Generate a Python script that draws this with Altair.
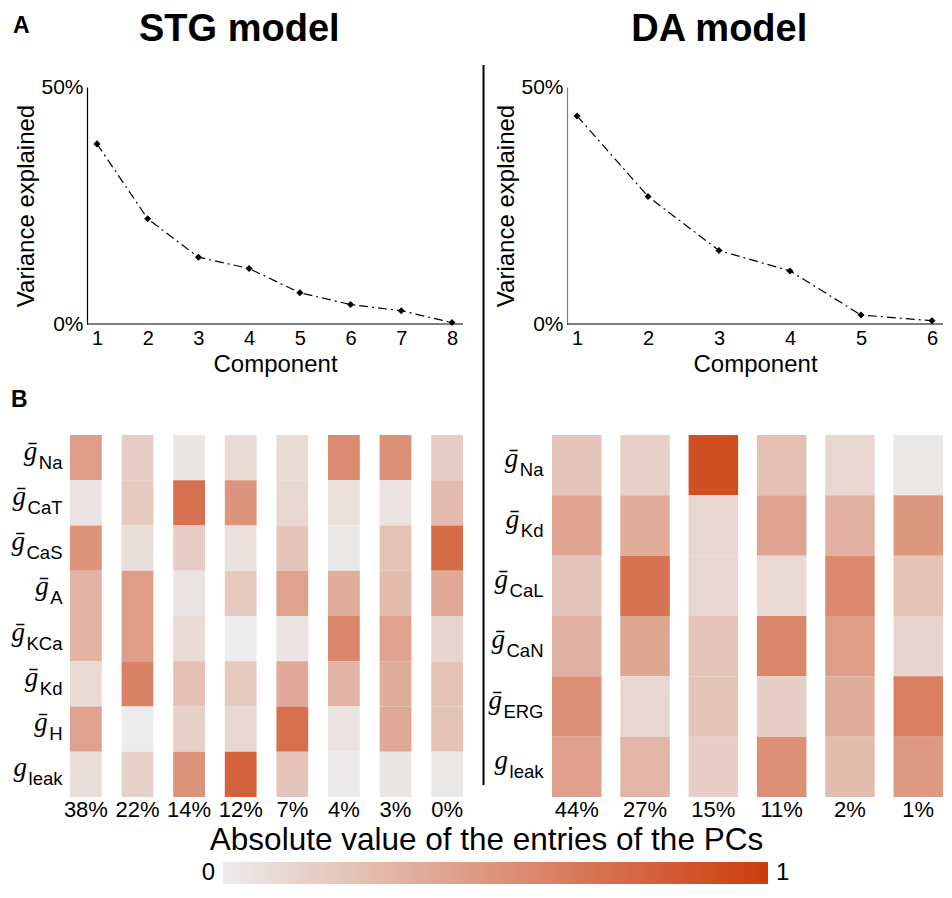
import altair as alt
import pandas as pd

# ---------------- data ----------------
stg_components = [1, 2, 3, 4, 5, 6, 7, 8]
stg_variance = [38.0, 22.2, 14.1, 11.7, 6.6, 4.1, 2.8, 0.3]
da_components = [1, 2, 3, 4, 5, 6]
da_variance = [43.9, 26.9, 15.5, 11.2, 1.9, 0.7]

stg_pc_labels = ["38%", "22%", "14%", "12%", "7%", "4%", "3%", "0%"]
da_pc_labels = ["44%", "27%", "15%", "11%", "2%", "1%"]

stg_conductances = ["Na", "CaT", "CaS", "A", "KCa", "Kd", "H", "leak"]
da_conductances = ["Na", "Kd", "CaL", "CaN", "ERG", "leak"]

# absolute value of PC entries: one list per conductance (row), one value per PC
stg_Na = [0.45, 0.18, 0.03, 0.10, 0.10, 0.55, 0.53, 0.18]
stg_CaT = [0.05, 0.20, 0.70, 0.50, 0.12, 0.07, 0.05, 0.28]
stg_CaS = [0.50, 0.08, 0.18, 0.06, 0.22, 0.02, 0.24, 0.72]
stg_A = [0.32, 0.45, 0.05, 0.20, 0.42, 0.35, 0.28, 0.38]
stg_KCa = [0.32, 0.45, 0.10, 0.00, 0.05, 0.58, 0.42, 0.13]
stg_Kd = [0.10, 0.60, 0.25, 0.20, 0.38, 0.32, 0.36, 0.24]
stg_H = [0.42, 0.00, 0.15, 0.12, 0.70, 0.05, 0.38, 0.23]
stg_leak = [0.08, 0.15, 0.50, 0.78, 0.22, 0.01, 0.03, 0.02]

da_Na = [0.22, 0.16, 0.90, 0.25, 0.12, 0.02]
da_Kd = [0.42, 0.36, 0.12, 0.41, 0.34, 0.48]
da_CaL = [0.22, 0.68, 0.12, 0.11, 0.56, 0.23]
da_CaN = [0.33, 0.40, 0.22, 0.57, 0.45, 0.13]
da_ERG = [0.52, 0.12, 0.23, 0.17, 0.36, 0.62]
da_leak = [0.43, 0.30, 0.17, 0.53, 0.27, 0.47]

stg_rows = [stg_Na, stg_CaT, stg_CaS, stg_A, stg_KCa, stg_Kd, stg_H, stg_leak]
da_rows = [da_Na, da_Kd, da_CaL, da_CaN, da_ERG, da_leak]

colorbar_ends = [0.0, 1.0]
colorbar_texts = ["0", "1"]
panel_letters = ["A", "B"]

# ---------------- styling ----------------
FONT = "Liberation Sans"
C0 = "#ececec"
C1 = "#cc3c0c"
SUB_SIZE = 18.5
# Arial / Liberation Sans advance widths (per 1000 em) for measuring subscripts
ADV = {"N": 722, "a": 556, "C": 722, "T": 611, "S": 667, "A": 667, "K": 667,
       "d": 556, "H": 722, "l": 222, "e": 556, "k": 500, "L": 556, "E": 667,
       "R": 722, "G": 778}

LINE_H = 237
HEAT_H = 362
ROW_GAP = 65
HEAT_TOP_GAP = 46
COL1_W = 393


def text_width(s, size):
    return sum(ADV.get(ch, 556) for ch in s) * size / 1000.0


def line_panel(comps, var, axis_extent, inset, width, title, ydomain_color):
    lo, hi = axis_extent
    axis_w = width - inset
    scale_lo = lo - (hi - lo) * inset / axis_w
    df = pd.DataFrame({"comp": comps, "var": var})
    xscale = alt.Scale(domain=[scale_lo, hi], nice=False, zero=False)
    yscale = alt.Scale(domain=[0, 50], nice=False, zero=True)
    base = alt.Chart(df).encode(
        x=alt.X("comp:Q", scale=xscale,
                axis=alt.Axis(values=comps, format="d", title="Component",
                              labelFontSize=20, labelPadding=4, ticks=False,
                              tickSize=0, grid=False, titleFontSize=24,
                              titlePadding=4, labelFlush=False, domain=False,
                              titleX=inset + axis_w / 2)),
        y=alt.Y("var:Q", scale=yscale,
                axis=alt.Axis(values=[0, 50], labelExpr="datum.value + '%'",
                              title="Variance explained", labelFontSize=21,
                              labelPadding=4, ticks=False, tickSize=0, grid=False,
                              titleFontSize=24, titlePadding=2, offset=-inset,
                              domainColor=ydomain_color, labelFlush=False)),
    )
    line = base.mark_line(color="black", strokeWidth=1.2, strokeDash=[9, 4, 2, 4])
    pts = base.mark_point(shape="diamond", filled=True, color="black", size=50, opacity=1)
    # x axis line drawn over the axis extent only
    frame = pd.DataFrame({"x0": [lo], "x1": [hi], "y0": [0]})
    xline = alt.Chart(frame).mark_rule(color="black", strokeWidth=1.2).encode(
        x=alt.X("x0:Q", title="Component"), x2="x1:Q",
        y=alt.Y("y0:Q", title="Variance explained"),
    )
    return alt.layer(line, pts, xline).properties(
        width=width, height=LINE_H,
        title=alt.TitleParams(title, fontSize=38, fontWeight="bold", anchor="middle",
                              frame="bounds", offset=27),
    )


def heatmap(conds, rows, pcs, width, pad_inner, label_pad, extra_layers=()):
    recs = []
    for c, vals in zip(conds, rows):
        for p, v in zip(pcs, vals):
            recs.append({"cond": c, "pc": p, "value": v})
    df = pd.DataFrame(recs)
    lab = pd.DataFrame({
        "cond": conds,
        "sym": ["g" if c == "leak" else "\u1e21" for c in conds],
        "subw": [text_width(c, SUB_SIZE) for c in conds],
    })
    n = len(conds)
    pad_outer = HEAT_TOP_GAP * n / (2.0 * HEAT_H)
    yscale = alt.Scale(paddingInner=0, paddingOuter=pad_outer, align=1)
    rect = alt.Chart(df).mark_rect().encode(
        x=alt.X("pc:N", sort=pcs,
                scale=alt.Scale(paddingInner=pad_inner, paddingOuter=0),
                axis=alt.Axis(title=None, labelFontSize=22, labelPadding=2,
                              ticks=False, tickSize=0, domain=False, labelAngle=0,
                              labelOverlap=False)),
        y=alt.Y("cond:N", sort=conds, scale=yscale,
                axis=alt.Axis(title=None, labelFontSize=SUB_SIZE, labelPadding=label_pad,
                              labelOffset=11, labelBaseline="alphabetic",
                              ticks=False, tickSize=0, domain=False)),
        color=alt.Color("value:Q",
                        scale=alt.Scale(domain=[0, 1], range=[C0, C1], interpolate="rgb"),
                        legend=None),
    )
    gsym = alt.Chart(lab).mark_text(
        align="right", baseline="alphabetic", font="Liberation Serif",
        fontStyle="italic", fontSize=27, dy=2,
        dx=alt.ExprRef(expr="-datum.subw - 1"), color="black",
    ).encode(
        y=alt.Y("cond:N", sort=conds),
        x=alt.value(-label_pad),
        text="sym:N",
    )
    return alt.layer(rect, gsym, *extra_layers).properties(
        width=width, height=HEAT_H + HEAT_TOP_GAP)


def letter(text, x, y):
    return alt.Chart(pd.DataFrame({"t": [text]})).mark_text(
        align="left", baseline="alphabetic", fontSize=23, fontWeight="bold",
        color="black"
    ).encode(x=alt.value(x), y=alt.value(y), text="t:N")


# ---------------- panels ----------------
line_stg = line_panel(stg_components, stg_variance, [0.803, 8.217], 17, COL1_W,
                      "STG model", "black")
line_da = line_panel(da_components, da_variance, [0.859, 6.155], 15, 391,
                     "DA model", "#808080")

# vertical separator between the two models
divider = alt.Chart(pd.DataFrame({"v": [0]})).mark_rule(
    color="black", strokeWidth=2
).encode(x=alt.value(-68.5), y=alt.value(-324), y2=alt.value(396))

heat_stg = heatmap(stg_conductances, stg_rows, stg_pc_labels, COL1_W, 0.384, 8,
                   extra_layers=[letter(panel_letters[0], -57, -356),
                                 letter(panel_letters[1], -59, 18)])
heat_da = heatmap(da_conductances, da_rows, da_pc_labels, 391, 0.2756, 9,
                  extra_layers=[divider])

# colorbar (gradient from 0 to 1 with its end labels beside it); the view keeps the
# width of the left column, the gradient itself runs past its right edge
CB_INSET = 153
CB_LEN = 545
cb_lo = -CB_INSET / CB_LEN
cb_hi = cb_lo + COL1_W / CB_LEN
cb_df = pd.DataFrame({"lo": [colorbar_ends[0]], "hi": [colorbar_ends[1]],
                      "lo_text": [colorbar_texts[0]], "hi_text": [colorbar_texts[1]],
                      "row": [""]})
cb_scale = alt.Scale(domain=[cb_lo, cb_hi], nice=False, zero=False, clamp=False)
cb_base = alt.Chart(cb_df)
grad = cb_base.mark_rect(
    fill=alt.LinearGradient(gradient="linear",
                            stops=[alt.GradientStop(color=C0, offset=0),
                                   alt.GradientStop(color=C1, offset=1)],
                            x1=0, x2=1, y1=0, y2=0)
).encode(
    x=alt.X("lo:Q", scale=cb_scale, axis=None), x2="hi:Q",
    y=alt.Y("row:N", axis=None, scale=alt.Scale(paddingInner=0, paddingOuter=0)),
)
lab0 = cb_base.mark_text(align="right", baseline="middle", dx=-8, fontSize=24,
                         color="black").encode(
    x=alt.X("lo:Q", scale=cb_scale, axis=None), text="lo_text:N")
lab1 = cb_base.mark_text(align="left", baseline="middle", dx=8, fontSize=24,
                         color="black").encode(
    x=alt.X("hi:Q", scale=cb_scale, axis=None), text="hi_text:N")
colorbar = alt.layer(grad, lab0, lab1).properties(
    width=COL1_W, height=22,
    title=alt.TitleParams("Absolute value of the entries of the PCs", fontSize=31.5,
                          fontWeight="normal", anchor="middle", offset=5,
                          dx=CB_INSET + CB_LEN / 2.0 - COL1_W / 2.0 - 9),
)

# ---------------- layout ----------------
chart = alt.concat(
    line_stg, line_da, heat_stg, heat_da, colorbar,
    columns=2, spacing={"row": ROW_GAP, "column": 89}, bounds="flush", align="none",
).properties(
    padding={"left": 3, "top": 3, "right": 0, "bottom": 0}
).configure(
    font=FONT
).configure_view(
    stroke=None
).configure_axis(
    labelColor="black", titleColor="black", domainColor="black",
    labelFont=FONT, titleFont=FONT, titleFontWeight="normal", domainWidth=1.2,
).configure_title(
    font=FONT, color="black"
)

chart.save("out.html", embed_options={"renderer": "svg", "actions": False})
